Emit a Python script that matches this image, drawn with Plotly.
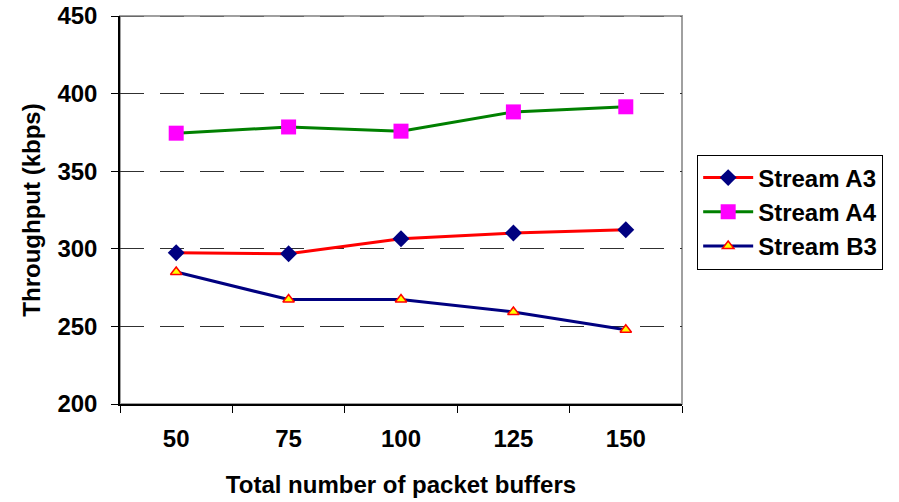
import plotly.graph_objects as go

categories = ["50", "75", "100", "125", "150"]
stream_a3 = [297.5, 296.8, 306.5, 310.2, 312.3]
stream_a4 = [374.5, 378.5, 375.8, 388.2, 391.5]
stream_b3 = [285.0, 267.3, 267.3, 259.3, 247.8]
y_ticks = [200, 250, 300, 350, 400, 450]

FONT = "Liberation Sans, Arial, sans-serif"
FS = 24

fig = go.Figure()
fig.add_trace(go.Scatter(
    x=categories, y=stream_a3, name="Stream A3", mode="lines+markers",
    line=dict(color="#FF0000", width=3),
    marker=dict(symbol="diamond", size=13, color="#000080", line=dict(width=0)),
    legendgroup="a3"))
fig.add_trace(go.Scatter(
    x=categories, y=stream_a4, name="Stream A4", mode="lines+markers",
    line=dict(color="#008000", width=3),
    marker=dict(symbol="square", size=15, color="#FF00FF", line=dict(width=0)),
    legendgroup="a4"))
fig.add_trace(go.Scatter(
    x=categories, y=stream_b3, name="Stream B3", mode="lines+markers",
    line=dict(color="#000080", width=3),
    marker=dict(symbol="triangle-up", size=10, color="#FFFF00", line=dict(width=1.5, color="#FF0000")),
    legendgroup="b3"))

# plot area border (gray)
fig.add_shape(type="rect", xref="paper", yref="paper", x0=0, x1=1, y0=0, y1=1,
              line=dict(color="#A0A0A0", width=2), layer="below")
# dashed line at top of value range
fig.add_shape(type="line", xref="paper", yref="y", x0=0, x1=1, y0=450, y1=450,
              line=dict(color="#303030", width=1, dash="24px,16px"), layer="above")

fig.update_layout(
    width=899, height=502,
    margin=dict(l=120, r=217, t=16, b=98),
    paper_bgcolor="white", plot_bgcolor="white",
    font=dict(family=FONT, size=FS, color="black", weight="bold"),
    showlegend=True,
    legend=dict(
        x=1.027, y=0.643, xanchor="left", yanchor="top",
        bordercolor="black", borderwidth=1, bgcolor="white",
        font=dict(family=FONT, size=FS, color="black", weight="bold"),
        tracegroupgap=0, itemwidth=50,
    ),
    xaxis=dict(
        type="category", tickson="boundaries", range=[-0.5, 4.5],
        showline=True, linecolor="black", linewidth=1.5,
        ticks="outside", ticklen=7, tickcolor="black", tickwidth=1,
        showgrid=False, ticklabelstandoff=12, automargin=False,
        title=dict(text="Total number of packet buffers", standoff=26,
                   font=dict(family=FONT, size=FS, weight="bold")),
    ),
    yaxis=dict(
        range=[200, 450], tickvals=y_ticks,
        showline=True, linecolor="black", linewidth=1.5,
        ticks="outside", ticklen=7, tickcolor="black", tickwidth=1,
        showgrid=True, gridcolor="#303030", gridwidth=1, griddash="24px,16px",
        ticklabelstandoff=9, zeroline=False, automargin=False,
        title=dict(text="Throughput (kbps)", standoff=10,
                   font=dict(family=FONT, size=FS, weight="bold")),
    ),
)

fig.write_html("out.html")
